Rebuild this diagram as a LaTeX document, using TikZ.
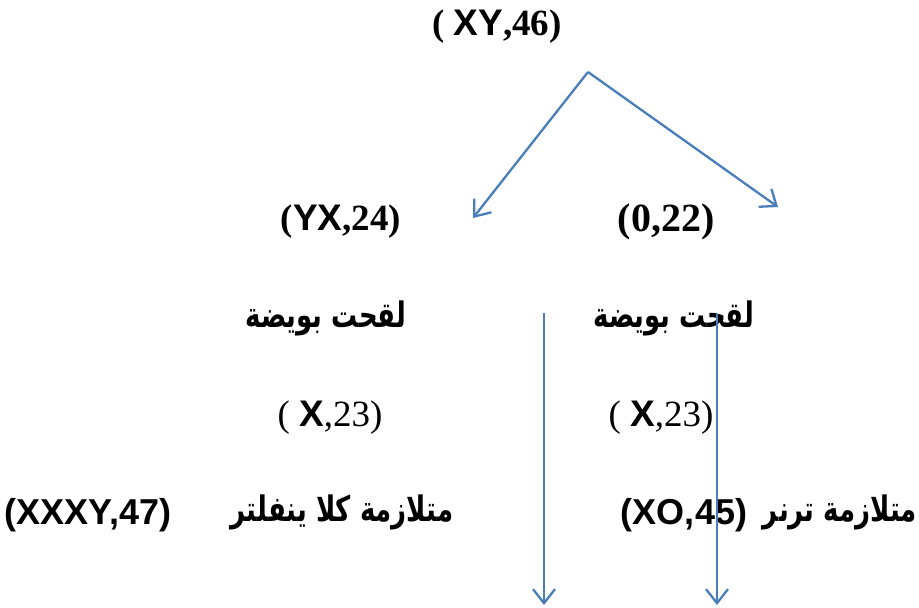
\documentclass[tikz,border=0pt]{standalone}
\usepackage{fontspec}
\setmainfont{Liberation Serif}
\setsansfont{Liberation Sans}
\newfontfamily\arabicfont[Script=Arabic]{DejaVu Sans}
\TeXXeTstate=1
\usetikzlibrary{arrows.meta}
\definecolor{arrowblue}{HTML}{4A7EBB}
\newcommand{\artext}[1]{\scalebox{1}[1.35]{\beginR #1\endR}}
\begin{document}
\begin{tikzpicture}[x=1pt,y=-1pt,
  lab/.style={inner sep=0pt,anchor=center,font=\fontsize{37}{42}\selectfont\bfseries},
  labr/.style={inner sep=0pt,anchor=center,font=\fontsize{37}{42}\selectfont},
  labs/.style={inner sep=0pt,anchor=center,font=\fontsize{36}{42}\selectfont\sffamily\bfseries},
  ar/.style={inner sep=0pt,anchor=center,font=\fontsize{26}{30}\selectfont\arabicfont\bfseries},
  conn/.style={draw=arrowblue,line width=2.3pt,-{Straight Barb[length=14pt,width=22pt]}}]
\useasboundingbox (0,0) rectangle (919,608);
% labels
\node[lab] (top) at (497,27) {( \textsf{XY},46)};
\node[lab] (yx) at (341,222) {(\textsf{YX},24)};
\node[lab,font=\fontsize{40}{44}\selectfont\bfseries] (oz) at (666,222) {(0,22)};
\node[ar] (fl) at (326,318) {\artext{لقحت بويضة}};
\node[ar] (fr) at (674,318) {\artext{لقحت بويضة}};
\node[labr] (xl) at (330,418) {( \textbf{\textsf{X}},23)};
\node[labr] (xr) at (661,418) {( \textbf{\textsf{X}},23)};
\node[labs] (k) at (88,515) {(XXXY,47)};
\node[ar] (kt) at (342,512) {\artext{متلازمة كلا ينفلتر}};
\node[labs] (t) at (684,515) {(XO,45)};
\node[ar] (tt) at (840,512) {\artext{متلازمة ترنر}};
% connectors
\coordinate (apex) at (588,72);
\coordinate (lt) at (473,218);
\coordinate (rt) at (778,207);
\coordinate (v1s) at (544,313);
\coordinate (v1e) at (544,605);
\coordinate (v2s) at (717,314);
\coordinate (v2e) at (717,605);
\draw[conn] (apex) -- (lt);
\draw[conn] (apex) -- (rt);
\draw[conn] (v1s) -- (v1e);
\draw[conn] (v2s) -- (v2e);
\end{tikzpicture}
\end{document}
